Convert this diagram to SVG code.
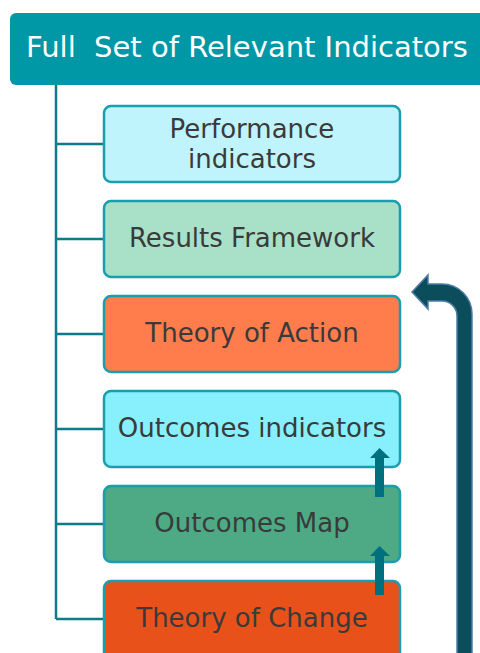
<svg xmlns="http://www.w3.org/2000/svg" width="480" height="653" viewBox="0 0 480 653">
<style>
.box{stroke:#1A9DAD;stroke-width:2.5}
.lbl{font-family:"DejaVu Sans",sans-serif;font-size:26px;fill:#3a3a3a;text-anchor:middle}
.conn{stroke:#0E7A8A;stroke-width:2.5;fill:none}
.small{fill:#00707F}
</style>
<rect width="480" height="653" fill="#ffffff"/>
<g id="title">
<rect x="10" y="13" width="480" height="72" rx="6" fill="#0097A7"/>
<text x="247" y="57" font-family="DejaVu Sans,sans-serif" font-size="29" fill="#ffffff" text-anchor="middle" xml:space="preserve">Full  Set of Relevant Indicators</text>
</g>
<g id="connectors">
<path class="conn" d="M56 85 V619 M56 144 H104 M56 239 H104 M56 334 H104 M56 429 H104 M56 524 H104 M56 619 H104"/>
</g>
<g id="n1">
<rect class="box" x="104" y="106" width="296" height="76" rx="7" fill="#C0F4FC"/>
<text class="lbl" x="252" y="138">Performance</text>
<text class="lbl" x="252" y="168">indicators</text>
</g>
<g id="n2">
<rect class="box" x="104" y="201" width="296" height="76" rx="7" fill="#A8E0C8"/>
<text class="lbl" x="252" y="247">Results Framework</text>
</g>
<g id="n3">
<rect class="box" x="104" y="296" width="296" height="76" rx="7" fill="#FF7C4C"/>
<text class="lbl" x="252" y="342">Theory of Action</text>
</g>
<g id="n4">
<rect class="box" x="104" y="391" width="296" height="76" rx="7" fill="#88F0FC"/>
<text class="lbl" x="252" y="437">Outcomes indicators</text>
</g>
<g id="n5">
<rect class="box" x="104" y="486" width="296" height="76" rx="7" fill="#4DAA84"/>
<text class="lbl" x="252" y="532">Outcomes Map</text>
</g>
<g id="n6">
<rect class="box" x="104" y="581" width="296" height="80" rx="7" fill="#E8521A"/>
<text class="lbl" x="252" y="627">Theory of Change</text>
</g>
<g id="arrows">
<path class="small" d="M375 497 V458 H370 L379.5 448 L390 458 H384 V497 Z"/>
<path class="small" d="M375 595 V556 H370 L379.5 546 L390 556 H384 V595 Z"/>
<path d="M457 660 V316 A15 15 0 0 0 442 301 H428 V309 L412 292 L428 275 V284 H442 A30 30 0 0 1 472 314 V660 Z" fill="#0B4D5A" stroke="#4E7DA6" stroke-width="1.5"/>
</g>
</svg>
